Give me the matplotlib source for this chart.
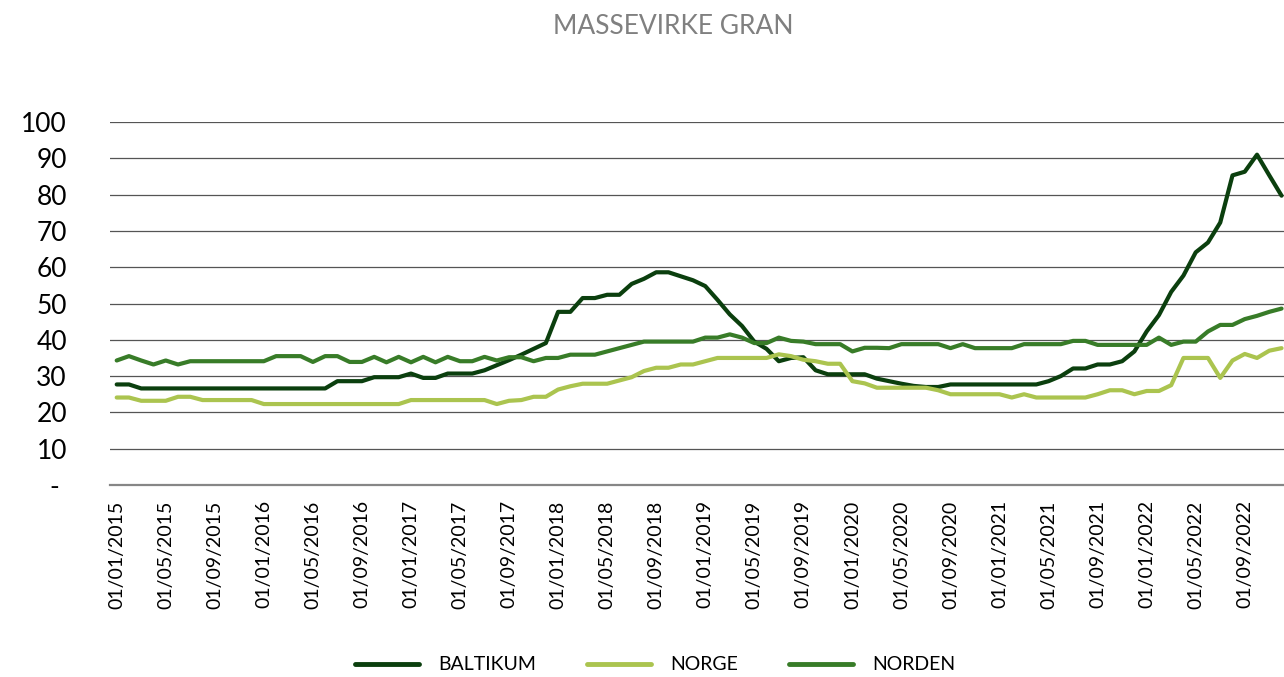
import matplotlib
matplotlib.use("Agg")
import matplotlib.pyplot as plt
from matplotlib.lines import Line2D
import numpy as np

plt.rcParams['font.family'] = ['Lato', 'DejaVu Sans']

title = "MASSEVIRKE GRAN"
series_names = ["BALTIKUM", "NORGE", "NORDEN"]

# Monthly values, Jan 2015 - Dec 2022
baltikum = [
    27.7, 27.7, 26.6, 26.6, 26.6, 26.6, 26.6, 26.6, 26.6, 26.6, 26.6, 26.6,
    26.6, 26.6, 26.6, 26.6, 26.6, 26.6, 28.6, 28.6, 28.6, 29.7, 29.7, 29.7,
    30.7, 29.5, 29.5, 30.7, 30.7, 30.7, 31.6, 33.0, 34.4, 35.9, 37.5, 39.1,
    47.7, 47.7, 51.5, 51.5, 52.4, 52.4, 55.4, 56.8, 58.6, 58.6, 57.5, 56.4,
    54.8, 51.0, 47.0, 43.8, 39.5, 37.5, 34.1, 35.0, 35.2, 31.6, 30.5, 30.5,
    30.5, 30.5, 29.3, 28.6, 27.9, 27.3, 27.0, 27.0, 27.7, 27.7, 27.7, 27.7,
    27.7, 27.7, 27.7, 27.7, 28.6, 30.0, 32.1, 32.1, 33.2, 33.2, 34.1, 36.8,
    42.3, 46.8, 53.2, 57.7, 64.1, 66.8, 72.3, 85.3, 86.3, 91.0, 85.3, 79.7,
]
norge = [
    24.1, 24.1, 23.2, 23.2, 23.2, 24.3, 24.3, 23.4, 23.4, 23.4, 23.4, 23.4,
    22.3, 22.3, 22.3, 22.3, 22.3, 22.3, 22.3, 22.3, 22.3, 22.3, 22.3, 22.3,
    23.4, 23.4, 23.4, 23.4, 23.4, 23.4, 23.4, 22.3, 23.2, 23.4, 24.3, 24.3,
    26.3, 27.2, 27.9, 27.9, 27.9, 28.8, 29.7, 31.4, 32.3, 32.3, 33.2, 33.2,
    34.1, 35.0, 35.0, 35.0, 35.0, 35.0, 36.0, 35.5, 34.5, 34.1, 33.4, 33.4,
    28.6, 28.0, 26.8, 26.8, 26.8, 26.8, 26.8, 26.1, 25.0, 25.0, 25.0, 25.0,
    25.0, 24.1, 25.0, 24.1, 24.1, 24.1, 24.1, 24.1, 25.0, 26.1, 26.1, 25.0,
    25.9, 25.9, 27.5, 35.0, 35.0, 35.0, 29.5, 34.3, 36.1, 35.0, 37.0, 37.7,
]
norden = [
    34.3, 35.5, 34.3, 33.2, 34.3, 33.2, 34.1, 34.1, 34.1, 34.1, 34.1, 34.1,
    34.1, 35.5, 35.5, 35.5, 33.9, 35.5, 35.5, 33.9, 33.9, 35.3, 33.8, 35.3,
    33.8, 35.3, 33.8, 35.3, 34.1, 34.1, 35.3, 34.3, 35.2, 35.2, 34.1, 35.0,
    35.0, 35.9, 35.9, 35.9, 36.8, 37.7, 38.6, 39.5, 39.5, 39.5, 39.5, 39.5,
    40.6, 40.6, 41.5, 40.6, 39.1, 39.1, 40.6, 39.7, 39.5, 38.8, 38.8, 38.8,
    36.8, 37.8, 37.8, 37.7, 38.8, 38.8, 38.8, 38.8, 37.7, 38.8, 37.7, 37.7,
    37.7, 37.7, 38.8, 38.8, 38.8, 38.8, 39.7, 39.7, 38.6, 38.6, 38.6, 38.6,
    38.6, 40.6, 38.6, 39.5, 39.5, 42.3, 44.1, 44.1, 45.7, 46.6, 47.7, 48.6,
]

tick_labels = [
    "01/01/2015", "01/05/2015", "01/09/2015",
    "01/01/2016", "01/05/2016", "01/09/2016",
    "01/01/2017", "01/05/2017", "01/09/2017",
    "01/01/2018", "01/05/2018", "01/09/2018",
    "01/01/2019", "01/05/2019", "01/09/2019",
    "01/01/2020", "01/05/2020", "01/09/2020",
    "01/01/2021", "01/05/2021", "01/09/2021",
    "01/01/2022", "01/05/2022", "01/09/2022",
]
y_ticks = [0, 10, 20, 30, 40, 50, 60, 70, 80, 90, 100]
y_tick_labels = ["- ", "10", "20", "30", "40", "50", "60", "70", "80", "90", "100"]

colors = ["#0b3f0e", "#abc44f", "#387c28"]

W, H = 1284, 677
fig = plt.figure(figsize=(W / 100, H / 100), dpi=100)
ax = fig.add_axes([110 / W, (H - 485) / H, 1 - 110 / W, (485 - 122) / H])

x = np.arange(len(baltikum))
for vals, c, name in zip([baltikum, norge, norden], colors, series_names):
    ax.plot(x, vals, color=c, lw=3.0, solid_capstyle='round',
            solid_joinstyle='round', label=name, zorder=3)

ax.set_xlim(-0.546, 95.2)
ax.set_ylim(0, 100)
ax.set_yticks(y_ticks)
ax.set_yticklabels(y_tick_labels)
ax.set_xticks(x[::4])
ax.set_xticklabels(tick_labels, rotation=90)
ax.tick_params(axis='y', length=0, pad=31, labelsize=19, labelcolor='black')
ax.tick_params(axis='x', length=0, pad=11, labelsize=14, labelcolor='black')

for s in ['top', 'right', 'left']:
    ax.spines[s].set_visible(False)
ax.spines['bottom'].set_color('#868686')
ax.spines['bottom'].set_linewidth(1.6)

ax.yaxis.grid(True, color='#555555', lw=0.9)
ax.set_axisbelow(True)
ax.xaxis.grid(False)

fig.text(673 / W, 1 - 27 / H, title, ha='center', va='center',
         color='#808080', fontsize=19)

handles = [Line2D([], [], color=c, lw=3.5, solid_capstyle='round') for c in colors]
fig.legend(handles, series_names, loc='center', bbox_to_anchor=(655 / W, 1 - 665 / H),
           ncol=3, frameon=False, fontsize=14, handlelength=3.3,
           handletextpad=1.0, columnspacing=2.6)

fig.savefig("out.png", dpi=100)
